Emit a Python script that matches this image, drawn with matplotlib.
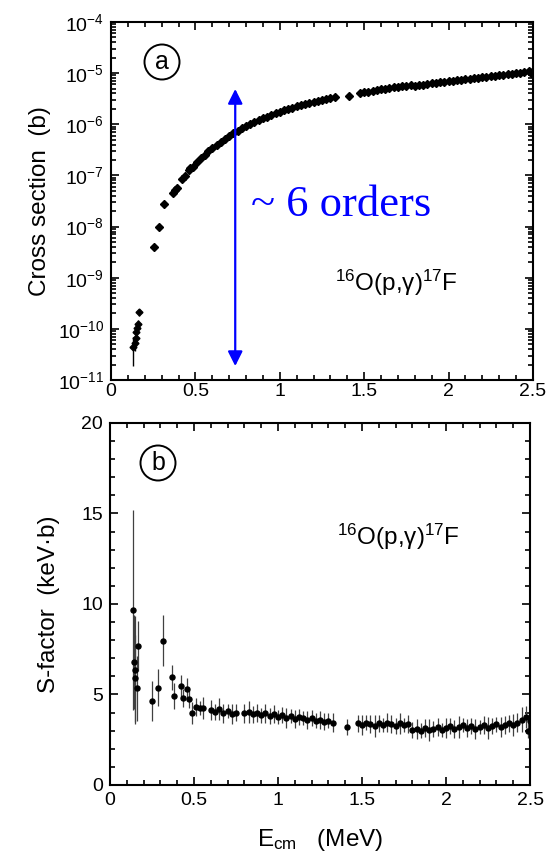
import matplotlib
matplotlib.use('Agg')
import matplotlib.pyplot as plt
from matplotlib.patches import Circle
from matplotlib.ticker import LogLocator, MultipleLocator, NullFormatter

plt.rcParams['font.family'] = ['Liberation Sans', 'DejaVu Sans']
plt.rcParams['mathtext.fontset'] = 'custom'
plt.rcParams['mathtext.rm'] = 'Liberation Sans'
plt.rcParams['mathtext.it'] = 'Liberation Sans:italic'

# ---------------------------------------------------------------------------
# (a) cross section
# lowest energies, with visible error bars
a_low_e = [0.133, 0.140, 0.145, 0.150, 0.155, 0.160, 0.168]
a_low_sig = [4.4e-11, 5.2e-11, 6.5e-11, 8.5e-11, 1.05e-10, 1.25e-10, 2.1e-10]
a_low_err = [2.5e-11, 1.5e-11, 1.8e-11, 2.0e-11, 2.0e-11, 2.5e-11, 3.0e-11]

a_e = [0.252, 0.284, 0.313, 0.369, 0.381, 0.390, 0.420, 0.436, 0.460, 0.470,
       0.486, 0.510, 0.536, 0.555, 0.575,
       0.600, 0.625, 0.650, 0.675, 0.700, 0.725, 0.750, 0.775, 0.800, 0.825,
       0.850, 0.875, 0.900, 0.925, 0.950, 0.975, 1.000, 1.025, 1.050, 1.075,
       1.100, 1.125, 1.150, 1.175, 1.200, 1.225, 1.250, 1.275, 1.300, 1.325,
       1.410,
       1.475, 1.500, 1.525, 1.550, 1.575, 1.600, 1.625, 1.650, 1.675, 1.700,
       1.725, 1.750, 1.775, 1.800, 1.825, 1.850, 1.875, 1.900, 1.925, 1.950,
       1.975, 2.000, 2.025, 2.050, 2.075, 2.100, 2.125, 2.150, 2.175, 2.200,
       2.225, 2.250, 2.275, 2.300, 2.325, 2.350, 2.375, 2.400, 2.425, 2.450,
       2.475, 2.490, 2.500]
a_sig = [4.0e-9, 1.0e-8, 2.8e-8, 4.6e-8, 5.2e-8, 5.8e-8, 8.5e-8, 9.8e-8, 1.3e-7, 1.4e-7,
         1.45e-7, 1.8e-7, 2.2e-7, 2.55e-7, 2.95e-7,
         3.39e-7, 3.94e-7, 4.57e-7, 5.20e-7, 5.91e-7, 6.64e-7, 7.45e-7, 8.29e-7, 9.23e-7, 1.01e-6,
         1.11e-6, 1.21e-6, 1.31e-6, 1.41e-6, 1.52e-6, 1.64e-6, 1.76e-6, 1.87e-6, 1.99e-6, 2.11e-6,
         2.23e-6, 2.36e-6, 2.50e-6, 2.62e-6, 2.75e-6, 2.87e-6, 3.00e-6, 3.12e-6, 3.25e-6, 3.38e-6,
         3.5e-6,
         4.05e-6, 4.20e-6, 4.35e-6, 4.50e-6, 4.65e-6, 4.82e-6, 4.97e-6, 5.12e-6, 5.28e-6, 5.43e-6,
         5.55e-6, 5.65e-6, 5.75e-6, 5.65e-6, 5.80e-6, 5.95e-6, 6.12e-6, 6.30e-6, 6.45e-6, 6.62e-6,
         6.80e-6, 6.98e-6, 7.12e-6, 7.28e-6, 7.45e-6, 7.60e-6, 7.78e-6, 7.95e-6, 8.15e-6, 8.35e-6,
         8.52e-6, 8.70e-6, 8.90e-6, 9.10e-6, 9.30e-6, 9.50e-6, 9.72e-6, 9.95e-6, 1.02e-5, 1.05e-5,
         1.08e-5, 1.02e-5, 1.10e-5]

# (b) astrophysical S-factor (keV b)
b_e = [0.135, 0.143, 0.149, 0.152, 0.159, 0.169, 0.252, 0.284, 0.313, 0.369,
       0.381, 0.420, 0.436, 0.460, 0.470, 0.486, 0.510, 0.536, 0.555,
       0.600, 0.625, 0.650, 0.675, 0.700, 0.725, 0.750, 0.800, 0.825, 0.850,
       0.875, 0.900, 0.925, 0.950, 0.975, 1.000, 1.025, 1.050, 1.075, 1.100,
       1.125, 1.150, 1.175, 1.200, 1.225, 1.250, 1.275, 1.300, 1.325,
       1.410,
       1.475, 1.500, 1.525, 1.550, 1.575, 1.600, 1.625, 1.650, 1.675, 1.700,
       1.725, 1.750, 1.775, 1.800, 1.825, 1.850, 1.875, 1.900, 1.925, 1.950,
       1.975, 2.000, 2.025, 2.050, 2.075, 2.100, 2.125, 2.150, 2.175, 2.200,
       2.225, 2.250, 2.275, 2.300, 2.325, 2.350, 2.375, 2.400, 2.425, 2.450,
       2.475, 2.490, 2.500]
b_s = [9.67, 6.8, 6.35, 5.9, 5.35, 7.68, 4.66, 5.38, 7.97, 5.95,
       4.92, 5.47, 4.80, 5.30, 4.75, 3.98, 4.30, 4.25, 4.25,
       4.15, 4.05, 4.20, 3.95, 4.10, 3.90, 4.00, 3.95, 4.05, 3.90,
       4.00, 3.85, 3.95, 3.80, 3.90, 3.75, 3.85, 3.70, 3.80, 3.65,
       3.75, 3.70, 3.60, 3.70, 3.55, 3.60, 3.50, 3.55, 3.45,
       3.22,
       3.40, 3.30, 3.45, 3.35, 3.25, 3.40, 3.30, 3.45, 3.35, 3.25,
       3.40, 3.30, 3.35, 3.05, 3.10, 3.00, 3.15, 3.05, 3.10, 3.20,
       3.05, 3.15, 3.25, 3.10, 3.20, 3.30, 3.15, 3.25, 3.10, 3.20,
       3.30, 3.15, 3.25, 3.35, 3.20, 3.30, 3.40, 3.30, 3.45, 3.60,
       3.75, 3.00, 3.55]
b_ds = [5.5, 2.6, 3.0, 2.4, 1.8, 1.4, 1.1, 1.0, 1.4, 0.7,
        0.7, 0.6, 0.5, 0.6, 0.5, 0.6, 0.5, 0.4, 0.6,
        0.55, 0.45, 0.60, 0.50, 0.40, 0.55, 0.45, 0.50, 0.60, 0.45,
        0.50, 0.40, 0.55, 0.45, 0.50, 0.40, 0.45, 0.55, 0.40, 0.50,
        0.45, 0.40, 0.50, 0.45, 0.40, 0.50, 0.45, 0.40, 0.50,
        0.45,
        0.45, 0.55, 0.40, 0.50, 0.60, 0.45, 0.40, 0.55, 0.50, 0.45,
        0.60, 0.40, 0.50, 0.45, 0.55, 0.40, 0.50, 0.60, 0.45, 0.50,
        0.40, 0.55, 0.45, 0.50, 0.60, 0.40, 0.50, 0.45, 0.55, 0.40,
        0.50, 0.60, 0.45, 0.40, 0.55, 0.50, 0.45, 0.60, 0.50, 0.70,
        0.60, 0.40, 0.50]

x_ticks = [0, 0.5, 1, 1.5, 2, 2.5]
x_tick_labels = ['0', '0.5', '1', '1.5', '2', '2.5']
reaction = r'$^{16}$O(p,γ)$^{17}$F'

# ---------------------------------------------------------------------------
fig = plt.figure(figsize=(5.58, 8.63), dpi=100)
ax1 = fig.add_axes([0.199, 0.5597, 0.756, 0.4148])
ax2 = fig.add_axes([0.197, 0.0904, 0.753, 0.4195])

# panel a
ax1.errorbar(a_low_e, a_low_sig, yerr=a_low_err, fmt='D', ms=3.5, color='k',
             elinewidth=1.0, capsize=0)
ax1.plot(a_e, a_sig, 'D', ms=4.2, color='k')
ax1.set_yscale('log')
ax1.set_xlim(0, 2.5)
ax1.set_ylim(1e-11, 1e-4)
ax1.yaxis.set_major_locator(LogLocator(base=10, numticks=10))
ax1.yaxis.set_minor_locator(LogLocator(base=10, subs=[2, 3, 4, 5, 6, 7, 8, 9], numticks=20))
ax1.yaxis.set_minor_formatter(NullFormatter())
ax1.set_ylabel('Cross section  (b)', fontsize=17.5, labelpad=5)

# blue arrow, about 6 orders
ax1.annotate('', xy=(0.736, 4.9e-6), xytext=(0.736, 1.87e-11),
             arrowprops=dict(arrowstyle='<|-|>', color='#0000ff', lw=1.6,
                             mutation_scale=22, shrinkA=0, shrinkB=0))
ax1.text(0.83, 2.6e-8, '~ 6 orders', color='#0000ff', fontsize=32,
         family=['Liberation Serif', 'DejaVu Serif'], va='center', ha='left')
ax1.text(1.33, 7.9e-10, reaction, fontsize=17.5, va='center', ha='left')

# panel b
ax2.errorbar(b_e, b_s, yerr=b_ds, fmt='o', ms=3.6, color='k', ecolor='0.25',
             elinewidth=0.9, capsize=0)
ax2.set_xlim(0, 2.5)
ax2.set_ylim(0, 20)
ax2.set_yticks([0, 5, 10, 15, 20])
ax2.yaxis.set_minor_locator(MultipleLocator(1))
ax2.set_ylabel('S-factor  (keV·b)', fontsize=17.5, labelpad=15)
ax2.set_xlabel(r'E$_{\rm cm}$   (MeV)', fontsize=17.5, labelpad=13)
ax2.text(1.35, 13.7, reaction, fontsize=17.5, va='center', ha='left')

for ax in (ax1, ax2):
    ax.set_xticks(x_ticks)
    ax.set_xticklabels(x_tick_labels)
    ax.xaxis.set_minor_locator(MultipleLocator(0.1))
    ax.tick_params(which='both', direction='in', top=True, right=True,
                   labelsize=14, width=1.2)
    ax.tick_params(which='major', length=6, pad=5)
    ax.tick_params(which='minor', length=3.5)
    for sp in ax.spines.values():
        sp.set_linewidth(1.5)
ax1.tick_params(axis='x', pad=2.5)

# circled panel letters
for cx, cy, letter in [(162, 62, 'a'), (158, 463, 'b')]:
    fig.patches.append(Circle((cx / 100, (863 - cy) / 100), 0.175, fill=False,
                              lw=1.4, color='k', transform=fig.dpi_scale_trans))
    fig.text(cx / 558, 1 - cy / 863, letter, fontsize=18, ha='center',
             va='center')

fig.savefig('out.png', dpi=100)
